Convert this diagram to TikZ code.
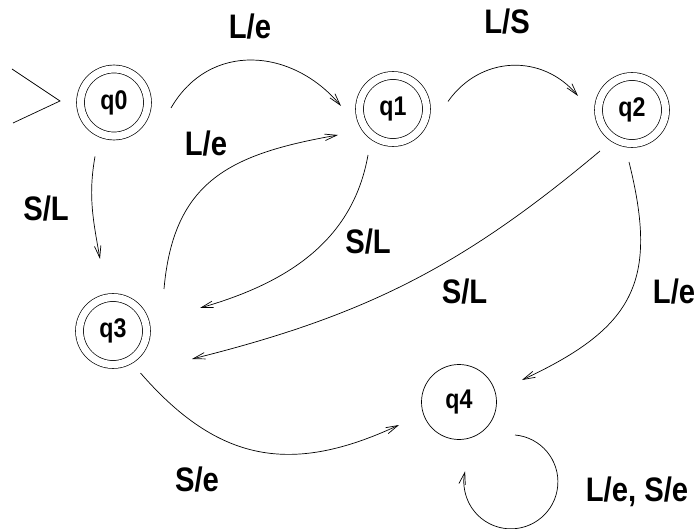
\documentclass[tikz,border=0pt]{standalone}
\usepackage{fontspec}
\setmainfont[FakeStretch=0.86]{Liberation Sans}
\usetikzlibrary{arrows.meta,calc}
\begin{document}
\begin{tikzpicture}[x=1pt,y=-1pt,line width=0.7pt,
  acc/.style={circle,draw,minimum size=67pt,inner sep=0pt,double,double distance=7.2pt,
              font=\fontsize{27}{31}\selectfont\bfseries},
  plain/.style={circle,draw,minimum size=75pt,inner sep=0pt,
              font=\fontsize{27}{31}\selectfont\bfseries},
  lbl/.style={inner sep=0pt,font=\fontsize{34}{40}\selectfont\bfseries},
  trans/.style={-{Straight Barb[length=12pt,width=6.5pt]}}]
\useasboundingbox (0,0) rectangle (696,529);
\node[acc] (q0) at (114,102.5) {q0};
\node[acc] (q1) at (393,109) {q1};
\node[acc] (q2) at (632,110) {q2};
\node[acc] (q3) at (113,331) {q3};
\node[plain] (q4) at (459,402) {q4};
% start marker
\coordinate (s1) at ($(q0)+(-102,-33.5)$);
\coordinate (stip) at ($(q0)+(-54,-1.5)$);
\coordinate (s2) at ($(q0)+(-101,20.5)$);
\draw (s1) -- (stip) -- (s2);
% transitions
\draw[trans] ($(q0)+(57,5.5)$) to[out=60,in=130,looseness=1.15] ($(q1)+(-52,-3)$);
\draw[trans] ($(q1)+(55,-7.5)$) to[out=55,in=130,looseness=1.1] ($(q2)+(-54,-14)$);
\draw[trans] ($(q0)+(-19,54)$) to[out=-100,in=100] ($(q3)+(-13,-72)$);
\draw[trans] ($(q3)+(51,-42)$) to[out=85,in=190,looseness=1.2] ($(q1)+(-55,26)$);
\draw[trans] ($(q1)+(-25,46)$) to[out=-100,in=16] ($(q3)+(87,-23)$);
\draw[trans] ($(q2)+(-32,41)$) to[out=220,in=14] ($(q3)+(79,28)$);
\draw[trans] ($(q2)+(-3,52)$) to[out=-76,in=25,looseness=1.3] ($(q4)+(63,-22)$);
\draw[trans] ($(q3)+(27.5,42)$) to[out=-49,in=205,looseness=1.15] ($(q4)+(-60,23)$);
\draw[trans] ($(q4)+(56,33)$) arc[start angle=-85,end angle=193,radius=47];
% labels
\node[lbl] (l01) at (250,27) {L/e};
\node[lbl] (l12) at (507,21.5) {L/S};
\node[lbl] (l03) at (46,209) {S/L};
\node[lbl] (l31) at (206,143.5) {L/e};
\node[lbl] (l13) at (368,242) {S/L};
\node[lbl] (l23) at (464.5,292) {S/L};
\node[lbl] (l24) at (674,292) {L/e};
\node[lbl] (l34) at (197,479.5) {S/e};
\node[lbl] (l44) at (637,492) {L/e, S/e};
\end{tikzpicture}
\end{document}
